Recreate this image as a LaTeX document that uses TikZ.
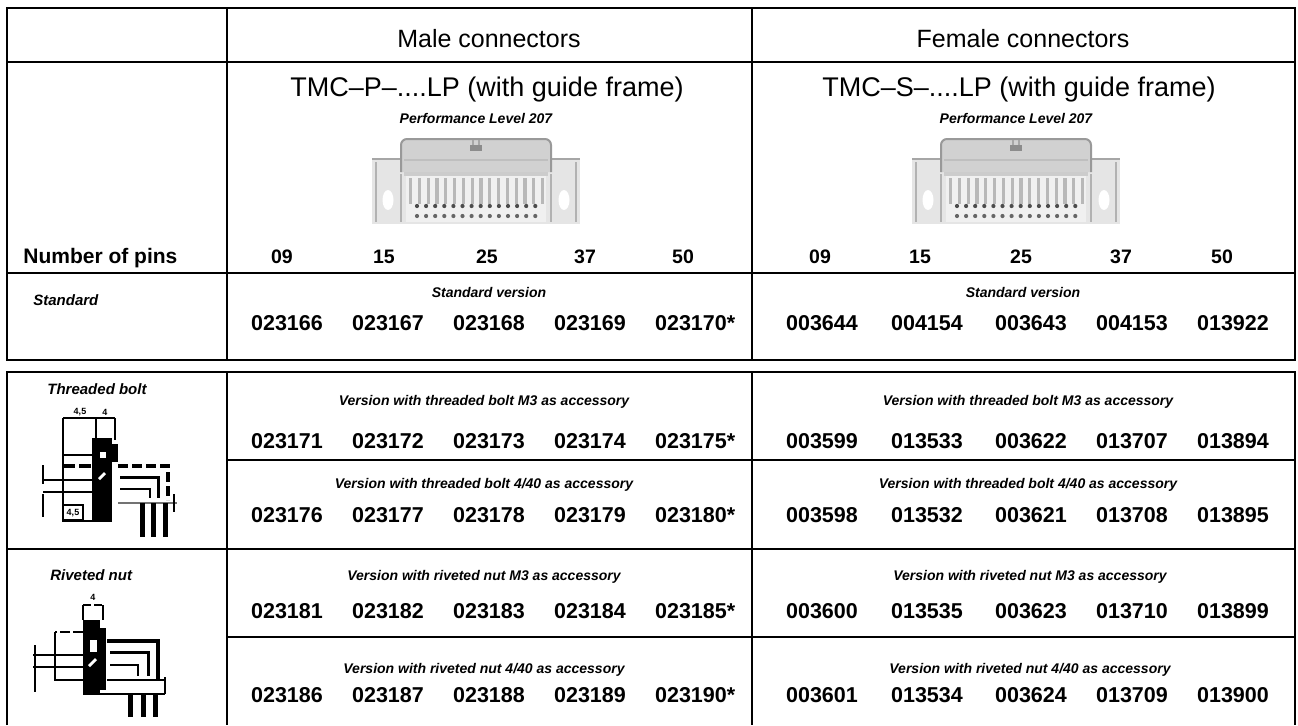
\documentclass[tikz,border=0pt]{standalone}
\usepackage{fontspec}
\setmainfont{Liberation Sans}
\tikzset{
  grid/.style={line width=1pt},
  num/.style={font=\fontsize{10.75}{12}\selectfont\bfseries, anchor=base, inner sep=0pt},
  pinno/.style={font=\fontsize{9.75}{11}\selectfont\bfseries, anchor=base, inner sep=0pt},
  lab/.style={font=\fontsize{7}{8}\selectfont\bfseries\itshape, anchor=base, inner sep=0pt},
  rowlab/.style={font=\fontsize{7.5}{9}\selectfont\bfseries\itshape, anchor=base west, inner sep=0pt},
  head/.style={font=\fontsize{12.5}{14}\selectfont, anchor=base, inner sep=0pt},
  ttl/.style={font=\fontsize{13.5}{16}\selectfont, anchor=base, inner sep=0pt},
  dimtxt/.style={font=\fontsize{4.5}{5}\selectfont\bfseries, inner sep=0pt},
}
\newcommand\dsubpic[1]{%
  \begin{scope}[shift={(#1,0)}]
    \fill[black!10] (-104,158) rectangle (104,224);
    \fill[black!20] (-72,158) rectangle (72,176);
    \draw[black!35, line width=0.8pt] (-104,159) -- (104,159);
    \draw[black!40, fill=black!18, line width=1pt, rounded corners=3pt]
      (-75,172) -- (-75,139) -- (75,139) -- (75,172);
    \draw[black!25, line width=0.6pt] (-72,160) -- (72,160);
    \fill[black!6] (-70,176) rectangle (70,222);
    \foreach \k in {0,...,15} \fill[black!28] (-67+\k*8.8,178) rectangle ++(3.2,26);
    \foreach \k in {0,...,13} \fill[black!70] (-59+\k*9.1,206) circle (2.1);
    \foreach \k in {0,...,13} \fill[black!60] (-59+\k*9.1,216) circle (2.1);
    \draw[black!30, line width=0.8pt] (-75,174) -- (-75,222) (75,174) -- (75,222);
    \draw[black!30, line width=0.6pt] (-100,162) -- (-100,222) (100,162) -- (100,222);
    \fill[white] (-88,200) ellipse (5.5 and 10);
    \fill[white] (88,200) ellipse (5.5 and 10);
    \fill[black!45] (-6,145) rectangle (6,151);
    \draw[black!35, line width=0.6pt] (-3,140) -- (-3,145) (3,140) -- (3,145);
  \end{scope}}
\begin{document}
\begin{tikzpicture}[x=0.5pt,y=-0.5pt]
\useasboundingbox (0,0) rectangle (1298,725);
\fill[white] (0,0) rectangle (1298,725);

% ---------- grid, upper block
\draw[grid] (7,8) rectangle (1295,360);
\draw[grid] (7,62) -- (1295,62);
\draw[grid] (7,273) -- (1295,273);
\draw[grid] (227,8) -- (227,360);
\draw[grid] (752,8) -- (752,360);
% ---------- grid, lower block
\draw[grid] (7,725) -- (7,372) -- (1295,372) -- (1295,725);
\draw[grid] (227,372) -- (227,725);
\draw[grid] (752,372) -- (752,725);
\draw[grid] (227,460) -- (1295,460);
\draw[grid] (7,549) -- (1295,549);
\draw[grid] (227,637) -- (1295,637);

% ---------- headers
\node[head] (male) at (489,47) {Male connectors};
\node[head] (female) at (1023,47) {Female connectors};
\node[ttl] (tmcp) at (487,96) {TMC–P–....LP (with guide frame)};
\node[ttl] (tmcs) at (1019,96) {TMC–S–....LP (with guide frame)};
\node[lab] (plm) at (476,123) {Performance Level 207};
\node[lab] (plf) at (1016,123) {Performance Level 207};
\dsubpic{476}
\dsubpic{1016}

\node[font=\fontsize{10.5}{12}\selectfont\bfseries, anchor=base west, inner sep=0pt] (nop) at (23,263) {Number of pins};
\foreach \x/\t [count=\i] in {282/09,384/15,487/25,585/37,683/50}
  \node[pinno] (pm\i) at (\x,263) {\t};
\foreach \x/\t [count=\i] in {820/09,920/15,1021/25,1121/37,1222/50}
  \node[pinno] (pf\i) at (\x,263) {\t};

% ---------- row labels (left column)
\node[rowlab] (lstd) at (33,305) {Standard};
\node[rowlab] (ltb) at (47,394) {Threaded bolt};
\node[rowlab] (lrn) at (50,580) {Riveted nut};

% ---------- group labels
\node[lab] (g1m) at (489,297) {Standard version};
\node[lab] (g1f) at (1023,297) {Standard version};
\node[lab] (g2m) at (484,405) {Version with threaded bolt M3 as accessory};
\node[lab] (g2f) at (1028,405) {Version with threaded bolt M3 as accessory};
\node[lab] (g3m) at (484,488) {Version with threaded bolt 4/40 as accessory};
\node[lab] (g3f) at (1028,488) {Version with threaded bolt 4/40 as accessory};
\node[lab] (g4m) at (484,580) {Version with riveted nut M3 as accessory};
\node[lab] (g4f) at (1030,580) {Version with riveted nut M3 as accessory};
\node[lab] (g5m) at (484,673) {Version with riveted nut 4/40 as accessory};
\node[lab] (g5f) at (1030,673) {Version with riveted nut 4/40 as accessory};

% ---------- part numbers
\foreach \y/\a/\b/\c/\d/\e/\f/\g/\h/\k/\l [count=\r] in {
   330/023166/023167/023168/023169/023170/003644/004154/003643/004153/013922,
   448/023171/023172/023173/023174/023175/003599/013533/003622/013707/013894,
   522/023176/023177/023178/023179/023180/003598/013532/003621/013708/013895,
   618/023181/023182/023183/023184/023185/003600/013535/003623/013710/013899,
   702/023186/023187/023188/023189/023190/003601/013534/003624/013709/013900}{
  \node[num] (m\r a) at (287,\y) {\a};
  \node[num] (m\r b) at (388,\y) {\b};
  \node[num] (m\r c) at (489,\y) {\c};
  \node[num] (m\r d) at (590,\y) {\d};
  \node[num] (m\r e) at (691,\y) {\e\rlap{*}};
  \node[num] (f\r a) at (822,\y) {\f};
  \node[num] (f\r b) at (927,\y) {\g};
  \node[num] (f\r c) at (1031,\y) {\h};
  \node[num] (f\r d) at (1132,\y) {\k};
  \node[num] (f\r e) at (1233,\y) {\l};
}

% ---------- threaded bolt drawing
\begin{scope}[line width=1pt]
  \node[dimtxt] (tb45) at (80,412) {4,5};
  \node[dimtxt] (tb4) at (105,412) {4};
  \draw (63,418) -- (115,418);
  \draw (63,418) -- (63,522);
  \draw (96,418) -- (96,445);
  \draw (115,418) -- (115,440);
  \fill (92,438) rectangle (112,521);
  \fill (112,444) rectangle (118,462);
  \fill[white] (100,452) rectangle (106,458);
  \fill[white] (98,478) -- (104,472) -- (106,474) -- (100,480) -- cycle;
  \draw (63,455) -- (92,455);
  \draw[line width=2pt, dash pattern=on 6pt off 2pt] (63,466) -- (92,466);
  \draw[line width=2pt, dash pattern=on 5pt off 2pt] (118,466) -- (168,466) -- (168,500);
  \draw[line width=1.5pt] (120,477) -- (158,477) -- (158,498);
  \draw (120,489) -- (150,489) -- (150,498);
  \draw (43,465) -- (43,484);
  \draw (43,494) -- (43,517);
  \draw[line width=0.7pt] (43,480) -- (92,480);
  \draw[line width=0.7pt] (43,492) -- (92,492);
  \draw (63,505) rectangle (83,520);
  \node[dimtxt] (tb45b) at (73,513) {4,5};
  \draw[black!55, line width=1.2pt] (118,503) -- (177,503);
  \draw (63,521) -- (112,521);
  \foreach \x in {142,153,165} \draw[line width=2.5pt] (\x,503) -- (\x,537);
  \draw (174,494) -- (174,512);
\end{scope}

% ---------- riveted nut drawing
\begin{scope}[line width=1pt]
  \node[dimtxt] (rn4) at (93,597) {4};
  \draw[dash pattern=on 4pt off 1.5pt] (83,605) -- (103,605);
  \draw (83,605) -- (83,620);
  \draw (103,605) -- (103,620);
  \fill (83,620) rectangle (100,694);
  \fill (100,628) rectangle (106,690);
  \fill[white] (90,640) rectangle (97,652);
  \fill[white] (88,665) -- (95,658) -- (97,660) -- (90,667) -- cycle;
  \draw[dash pattern=on 5pt off 1.5pt] (83,632) -- (55,632);
  \draw (55,632) -- (55,680) -- (83,680);
  \draw (33,655) -- (87,655);
  \draw (33,667) -- (87,667);
  \draw (35,645) -- (35,692);
  \draw[line width=2pt] (107,641) -- (158,641) -- (158,680);
  \draw[line width=1.5pt] (110,652) -- (148,652) -- (148,676);
  \draw (110,665) -- (138,665) -- (138,676);
  \draw (83,694) -- (165,694);
  \draw (165,677) -- (165,694);
  \draw (107,680) -- (165,680);
  \foreach \x in {130,143,155} \draw[line width=2.5pt] (\x,694) -- (\x,717);
\end{scope}
\end{tikzpicture}
\end{document}
